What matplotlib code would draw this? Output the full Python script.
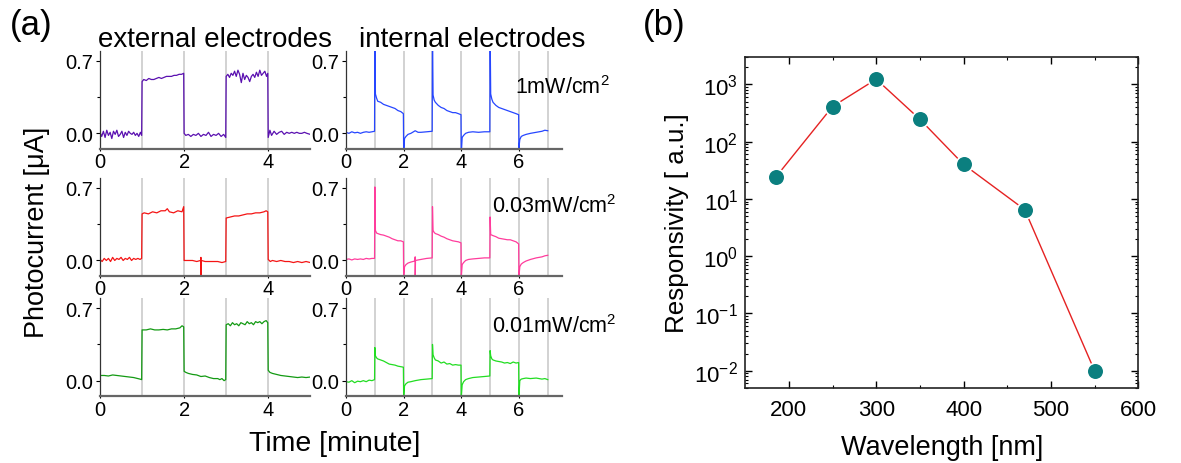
import matplotlib
matplotlib.use("Agg")
import matplotlib.pyplot as plt
from matplotlib.ticker import FixedLocator, LogLocator, NullFormatter

plt.rcParams['font.family'] = ['Liberation Sans', 'DejaVu Sans']
plt.rcParams['mathtext.fontset'] = 'custom'
plt.rcParams['mathtext.rm'] = 'Liberation Sans'
plt.rcParams['mathtext.it'] = 'Liberation Sans:italic'
plt.rcParams['axes.unicode_minus'] = False

# ---- (a) photocurrent traces, external electrodes (time in minutes, current in uA)
ext_1mw_t = [0.00, 0.04, 0.08, 0.12, 0.16, 0.20, 0.24, 0.28, 0.32, 0.36, 0.40, 0.44, 0.48,
             0.52, 0.56, 0.60, 0.64, 0.68, 0.72, 0.76, 0.80, 0.84, 0.88, 0.92, 0.96, 0.99,
             1.00, 1.04, 1.10, 1.16, 1.22, 1.28, 1.34, 1.40, 1.46, 1.52, 1.58, 1.64, 1.70,
             1.76, 1.82, 1.88, 1.94, 1.99,
             2.00, 2.04, 2.10, 2.16, 2.22, 2.28, 2.34, 2.40, 2.46, 2.52, 2.58, 2.64, 2.70,
             2.76, 2.82, 2.88, 2.94, 2.99,
             3.00, 3.04, 3.08, 3.12, 3.16, 3.20, 3.24, 3.28, 3.32, 3.36, 3.40, 3.44, 3.48,
             3.52, 3.56, 3.60, 3.64, 3.68, 3.72, 3.76, 3.80, 3.84, 3.88, 3.92, 3.96, 3.99,
             4.00, 4.04, 4.08, 4.14, 4.20, 4.26, 4.32, 4.38, 4.44, 4.50, 4.56, 4.62, 4.68,
             4.74, 4.80, 4.86, 4.92, 5.00]
ext_1mw_v = [0.01, -0.03, 0.02, -0.04, 0.03, -0.02, 0.01, -0.05, 0.02, -0.01, 0.03, -0.03, -0.01,
             0.02, -0.04, 0.01, -0.02, 0.02, 0.00, -0.01, 0.01, -0.02, 0.00, -0.03, 0.01, -0.02,
             0.50, 0.52, 0.51, 0.53, 0.52, 0.52, 0.53, 0.54, 0.53, 0.54, 0.55, 0.55, 0.55,
             0.56, 0.56, 0.57, 0.57, 0.58,
             0.00, -0.02, -0.01, -0.03, -0.01, -0.02, 0.00, -0.03, -0.01, -0.02, 0.01, -0.03, -0.01,
             -0.02, 0.00, -0.03, -0.01, -0.04,
             0.55, 0.57, 0.54, 0.58, 0.56, 0.60, 0.55, 0.61, 0.57, 0.49, 0.58, 0.52, 0.56,
             0.54, 0.50, 0.55, 0.57, 0.54, 0.59, 0.55, 0.61, 0.56, 0.58, 0.60, 0.55, 0.58,
             -0.04, 0.03, -0.02, 0.02, -0.01, 0.01, 0.02, -0.01, 0.01, 0.00, 0.01, 0.00, 0.01,
             0.00, 0.00, 0.01, 0.00, -0.01]

ext_003_t = [0.00, 0.05, 0.10, 0.15, 0.20, 0.25, 0.30, 0.35, 0.40, 0.45, 0.50, 0.55, 0.60, 0.65,
             0.70, 0.75, 0.80, 0.85, 0.90, 0.95, 0.99,
             1.00, 1.05, 1.15, 1.25, 1.35, 1.45, 1.55, 1.60, 1.65, 1.75, 1.85, 1.95, 1.99,
             2.00, 2.10, 2.20, 2.30, 2.39, 2.40, 2.40, 2.41, 2.50, 2.60, 2.70, 2.80, 2.90, 2.99,
             3.00, 3.10, 3.20, 3.30, 3.40, 3.50, 3.60, 3.70, 3.80, 3.90, 3.95, 3.99,
             4.00, 4.05, 4.10, 4.20, 4.30, 4.40, 4.50, 4.60, 4.70, 4.80, 4.90, 5.00]
ext_003_v = [0.01, -0.01, 0.02, 0.00, 0.02, -0.01, 0.03, 0.00, 0.02, 0.01, 0.03, 0.00, 0.02, 0.01,
             0.03, 0.00, 0.02, 0.01, 0.02, 0.01, 0.02,
             0.45, 0.46, 0.45, 0.47, 0.46, 0.48, 0.48, 0.50, 0.47, 0.46, 0.48, 0.47, 0.52,
             0.00, 0.00, 0.00, -0.01, 0.00, 0.03, -0.16, 0.00, -0.01, -0.01, -0.01, -0.01, -0.02, -0.01,
             0.41, 0.42, 0.43, 0.43, 0.44, 0.45, 0.45, 0.46, 0.46, 0.47, 0.48, 0.47,
             0.01, -0.01, 0.00, -0.01, 0.00, -0.01, -0.01, -0.02, -0.01, -0.02, -0.01, -0.02]

ext_001_t = [0.00, 0.10, 0.20, 0.30, 0.40, 0.50, 0.60, 0.70, 0.80, 0.90, 0.95, 0.99,
             1.00, 1.10, 1.20, 1.30, 1.40, 1.50, 1.60, 1.70, 1.80, 1.90, 1.95, 1.99,
             2.00, 2.04, 2.10, 2.20, 2.30, 2.40, 2.50, 2.60, 2.70, 2.80, 2.85, 2.90, 2.95, 2.99,
             3.00, 3.05, 3.10, 3.15, 3.20, 3.25, 3.30, 3.35, 3.40, 3.45, 3.50, 3.55, 3.60, 3.65,
             3.70, 3.75, 3.80, 3.85, 3.90, 3.95, 3.99,
             4.00, 4.04, 4.10, 4.20, 4.30, 4.40, 4.50, 4.60, 4.70, 4.80, 4.90, 5.00]
ext_001_v = [0.05, 0.05, 0.045, 0.055, 0.05, 0.045, 0.04, 0.035, 0.03, 0.02, 0.015, 0.01,
             0.49, 0.49, 0.50, 0.49, 0.49, 0.495, 0.49, 0.50, 0.50, 0.51, 0.53, 0.52,
             0.09, 0.08, 0.07, 0.06, 0.055, 0.04, 0.045, 0.03, 0.02, 0.02, 0.01, 0.02, 0.00, 0.01,
             0.54, 0.55, 0.53, 0.56, 0.54, 0.55, 0.53, 0.56, 0.55, 0.54, 0.57, 0.55, 0.56, 0.54,
             0.57, 0.56, 0.57, 0.55, 0.57, 0.58, 0.56,
             0.10, 0.08, 0.07, 0.06, 0.05, 0.045, 0.04, 0.035, 0.03, 0.035, 0.03, 0.035]

# ---- internal electrodes
int_t = [0.0, 0.1, 0.2, 0.3, 0.4, 0.5, 0.6, 0.7, 0.8, 0.9, 0.99,
         1.0, 1.02, 1.06, 1.1, 1.2, 1.3, 1.4, 1.5, 1.6, 1.7, 1.8, 1.9, 1.99,
         2.0, 2.03, 2.08, 2.15, 2.25, 2.4, 2.5, 2.6, 2.8, 2.99,
         3.0, 3.02, 3.06, 3.1, 3.2, 3.3, 3.4, 3.5, 3.6, 3.7, 3.8, 3.9, 3.99,
         4.0, 4.03, 4.08, 4.15, 4.25, 4.4, 4.6, 4.8, 4.99,
         5.0, 5.02, 5.06, 5.1, 5.2, 5.3, 5.4, 5.5, 5.6, 5.7, 5.8, 5.9, 5.99,
         6.0, 6.03, 6.08, 6.15, 6.25, 6.4, 6.6, 6.8, 6.9, 7.0]
int_1mw_v = [0.01, 0.0, 0.015, 0.005, 0.01, 0.0, 0.01, 0.015, 0.01, 0.015, 0.02,
             1.0, 0.38, 0.34, 0.31, 0.30, 0.28, 0.27, 0.26, 0.25, 0.24, 0.22, 0.21, 0.19,
             -0.2, -0.05, -0.03, -0.01, 0.0, 0.025, 0.01, 0.01, 0.015, 0.02,
             1.0, 0.37, 0.32, 0.30, 0.27, 0.25, 0.24, 0.22, 0.21, 0.20, 0.20, 0.19, 0.18,
             -0.2, -0.04, -0.02, 0.0, 0.01, 0.015, 0.01, 0.015, 0.015,
             1.0, 0.38, 0.33, 0.30, 0.27, 0.25, 0.24, 0.23, 0.22, 0.21, 0.20, 0.19, 0.18,
             -0.14, -0.06, -0.03, -0.02, -0.01, 0.0, 0.01, 0.02, 0.03, 0.025]
int_001_v = [-0.01, -0.015, 0.0, -0.02, -0.005, -0.01, 0.0, -0.01, 0.005, 0.0, 0.01,
             0.32, 0.24, 0.22, 0.21, 0.20, 0.19, 0.175, 0.16, 0.155, 0.15, 0.14, 0.135, 0.13,
             -0.16, -0.05, -0.03, -0.015, -0.01, 0.0, 0.005, 0.01, 0.015, 0.02,
             0.35, 0.25, 0.22, 0.20, 0.19, 0.17, 0.18, 0.16, 0.165, 0.15, 0.155, 0.15, 0.15,
             -0.16, -0.04, -0.01, 0.01, 0.02, 0.03, 0.035, 0.04, 0.045,
             0.29, 0.24, 0.21, 0.20, 0.19, 0.185, 0.18, 0.17, 0.175, 0.165, 0.18, 0.17, 0.175,
             -0.16, 0.0, 0.015, 0.02, 0.025, 0.02, 0.025, 0.015, 0.02, 0.01]

int_003_t = [0.0, 0.1, 0.2, 0.3, 0.4, 0.5, 0.6, 0.7, 0.8, 0.9, 0.99,
             1.0, 1.02, 1.06, 1.1, 1.2, 1.3, 1.4, 1.5, 1.6, 1.7, 1.8, 1.9, 1.99,
             2.0, 2.03, 2.08, 2.15, 2.25, 2.39, 2.4, 2.4, 2.41, 2.5, 2.6, 2.8, 2.99,
             3.0, 3.02, 3.06, 3.1, 3.2, 3.3, 3.4, 3.5, 3.6, 3.7, 3.8, 3.9, 3.99,
             4.0, 4.03, 4.08, 4.15, 4.25, 4.4, 4.6, 4.8, 4.99,
             5.0, 5.02, 5.06, 5.1, 5.2, 5.3, 5.4, 5.5, 5.6, 5.7, 5.8, 5.9, 5.99,
             6.0, 6.03, 6.08, 6.15, 6.25, 6.4, 6.6, 6.8, 6.9, 7.0]
int_003_v = [0.01, 0.015, 0.005, 0.015, 0.01, 0.015, 0.01, 0.02, 0.015, 0.02, 0.02,
             0.71, 0.29, 0.265, 0.26, 0.25, 0.245, 0.235, 0.225, 0.21, 0.20, 0.19, 0.19, 0.18,
             -0.16, -0.06, -0.04, -0.025, -0.015, -0.005, 0.035, -0.16, 0.0, 0.005, 0.01, 0.02, 0.025,
             0.52, 0.29, 0.27, 0.26, 0.25, 0.235, 0.225, 0.21, 0.20, 0.19, 0.185, 0.18, 0.17,
             -0.16, -0.04, -0.02, 0.0, 0.01, 0.015, 0.02, 0.025, 0.025,
             0.42, 0.25, 0.245, 0.24, 0.23, 0.215, 0.21, 0.205, 0.20, 0.20, 0.19, 0.18, 0.16,
             -0.16, -0.06, -0.035, -0.02, -0.005, 0.01, 0.025, 0.035, 0.045, 0.05]

intensity_labels = ['1mW/cm$^2$', '0.03mW/cm$^2$', '0.01mW/cm$^2$']

# ---- (b) spectral responsivity
wavelength = [185, 250, 300, 350, 400, 470, 550]
responsivity = [24, 410, 1230, 245, 40, 6.5, 0.01]

fig = plt.figure(figsize=(11.81, 4.64), dpi=100)

row_bottoms = [0.677, 0.403, 0.144]
ext_traces = [(ext_1mw_t, ext_1mw_v, '#5a10b0'),
              (ext_003_t, ext_003_v, '#f41414'),
              (ext_001_t, ext_001_v, '#139a13')]
int_traces = [(int_t, int_1mw_v, '#2646ff'),
              (int_003_t, int_003_v, '#ff3c9c'),
              (int_t, int_001_v, '#22dd22')]
label_pos = [(0.436, 0.797), (0.417, 0.541), (0.417, 0.282)]


def style_small(ax, xmax, xticks, marks):
    ax.set_xlim(0, xmax)
    ax.set_ylim(-0.15, 0.8)
    for m in marks:
        ax.axvline(m, color='#cfcfcf', lw=1.3, zorder=0)
    for s in ['top', 'right']:
        ax.spines[s].set_visible(False)
    ax.spines['left'].set_color('#333333')
    ax.spines['left'].set_linewidth(0.9)
    ax.spines['bottom'].set_color('#666666')
    ax.spines['bottom'].set_linewidth(1.6)
    ax.set_yticks([0.0, 0.7])
    ax.set_yticklabels(['0.0', '0.7'])
    ax.yaxis.set_minor_locator(FixedLocator([0.35]))
    ax.set_xticks(xticks)
    ax.tick_params(axis='y', which='major', direction='out', length=3, width=0.8,
                   labelsize=14.5, pad=2)
    ax.tick_params(axis='y', which='minor', direction='out', length=2, width=0.8)
    ax.tick_params(axis='x', which='major', direction='out', length=1.5, width=0.8,
                   labelsize=14.5, pad=1)


for i in range(3):
    b = row_bottoms[i]
    ax1 = fig.add_axes([0.0847, b, 0.178, 0.212])
    t, v, c = ext_traces[i]
    ax1.plot(t, v, color=c, lw=0.9)
    style_small(ax1, 5, [0, 2, 4], [1, 2, 3, 4])

    ax2 = fig.add_axes([0.293, b, 0.183, 0.212])
    t, v, c = int_traces[i]
    ax2.plot(t, v, color=c, lw=0.9)
    style_small(ax2, 7.5, [0, 2, 4, 6], [1, 2, 3, 4, 5, 6, 7])

    fig.text(label_pos[i][0], label_pos[i][1], intensity_labels[i], fontsize=15.5,
             va='baseline', ha='left')

fig.text(0.008, 0.944, '(a)', fontsize=25, va='center', ha='left')
fig.text(0.5445, 0.946, '(b)', fontsize=25, va='center', ha='left')
fig.text(0.182, 0.899, 'external electrodes', fontsize=20, ha='center', va='baseline')
fig.text(0.400, 0.899, 'internal electrodes', fontsize=20, ha='center', va='baseline')
fig.text(0.031, 0.5, 'Photocurrent [\u03bcA]', fontsize=19.5, rotation=90,
         ha='center', va='center')
fig.text(0.283, 0.028, 'Time [minute]', fontsize=20.5, ha='center', va='baseline')

# ---- (b)
axb = fig.add_axes([0.631, 0.1616, 0.3328, 0.7134])
axb.plot(wavelength, responsivity, color='#e52222', lw=1.0, zorder=2)
axb.plot(wavelength, responsivity, 'o', color='#0b7f7f', markersize=12,
         markeredgecolor='white', markeredgewidth=1.2, zorder=3)
axb.set_yscale('log')
axb.set_xlim(150, 600)
axb.set_ylim(5e-3, 3e3)
axb.set_xticks([200, 300, 400, 500, 600])
axb.set_xticks([250, 350, 450, 550], minor=True)
axb.yaxis.set_major_locator(LogLocator(base=10, numticks=12))
axb.yaxis.set_minor_locator(LogLocator(base=10, subs=range(2, 10), numticks=12))
axb.yaxis.set_minor_formatter(NullFormatter())
for s in axb.spines.values():
    s.set_linewidth(1.2)
    s.set_color('#222222')
axb.tick_params(which='both', direction='in', top=True, right=True)
axb.tick_params(which='major', length=5, width=1.0, labelsize=16, pad=8)
axb.tick_params(which='minor', length=2.5, width=0.8)
axb.tick_params(axis='y', which='major', pad=5)
axb.set_xlabel('Wavelength [nm]', fontsize=19.5, labelpad=10)
axb.set_ylabel('Responsivity [ a.u.]', fontsize=18.7, labelpad=4)

fig.savefig('out.png', dpi=100)
